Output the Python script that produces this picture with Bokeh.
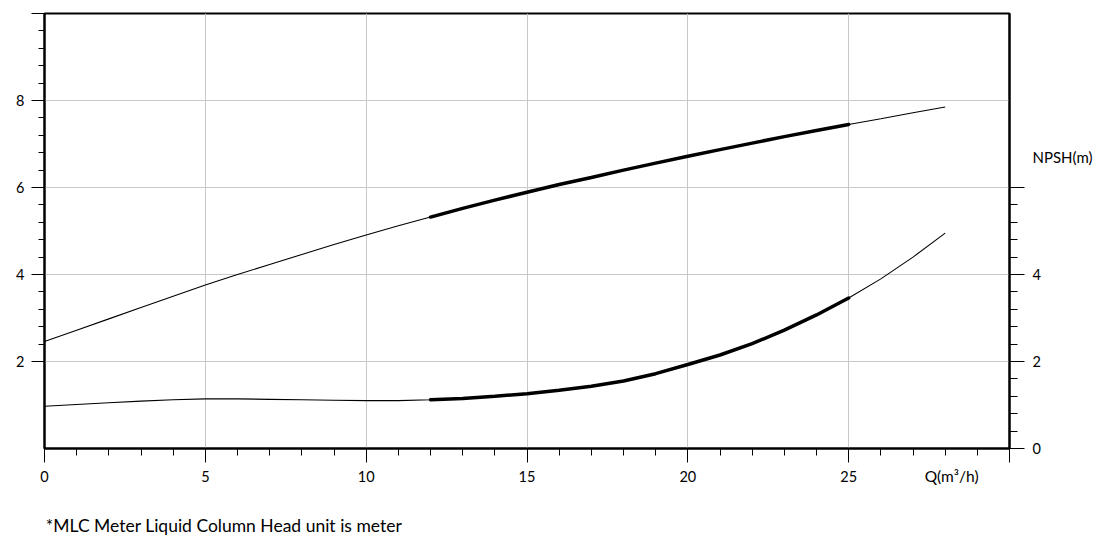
from bokeh.plotting import figure
from bokeh.models import Range1d, LinearAxis, FixedTicker
from bokeh.embed import file_html
from bokeh.resources import INLINE

# ---- data ----
q = [0, 1, 2, 3, 4, 5, 6, 7, 8, 9, 10, 11, 12, 13, 14, 15, 16, 17, 18, 19, 20,
     21, 22, 23, 24, 25, 26, 27, 28]
head = [2.46, 2.72, 2.98, 3.24, 3.50, 3.76, 4.00, 4.23, 4.46, 4.69, 4.91, 5.12,
        5.32, 5.52, 5.71, 5.89, 6.07, 6.23, 6.40, 6.56, 6.72, 6.87, 7.02, 7.17,
        7.31, 7.45, 7.58, 7.72, 7.85]
npsh = [0.97, 1.01, 1.05, 1.09, 1.12, 1.14, 1.14, 1.13, 1.12, 1.11, 1.10, 1.10,
        1.12, 1.15, 1.20, 1.26, 1.34, 1.43, 1.55, 1.72, 1.93, 2.15, 2.41, 2.72,
        3.07, 3.46, 3.90, 4.40, 4.95]
op_start, op_end = 12, 25  # bold operating range (m3/h)

x_ticks = [0, 5, 10, 15, 20, 25, 30]
x_labels = {30: ""}
left_ticks = [2, 4, 6, 8, 10]
left_labels = {10: ""}
right_ticks = [0, 2, 4, 6]
right_labels = {6: ""}
q_title = "Q(m³/h)"
npsh_title = "NPSH(m)"
footnote = "*MLC Meter Liquid Column Head unit is meter"

FONT = "Lato"

p = figure(width=1103, height=540, output_backend="svg", toolbar_location=None,
           x_range=Range1d(0, 30), y_range=Range1d(0, 10),
           min_border_left=44, min_border_right=94, min_border_top=13,
           min_border_bottom=92, x_axis_location="below", y_axis_location="left")
p.outline_line_color = "black"
p.outline_line_width = 2
p.background_fill_color = "white"
p.border_fill_color = "white"

# grids
p.xgrid.ticker = FixedTicker(ticks=[5, 10, 15, 20, 25])
p.ygrid.ticker = FixedTicker(ticks=[2, 4, 6, 8])
for g in (p.xgrid, p.ygrid):
    g.grid_line_color = "#c8c8c8"
    g.grid_line_width = 1

def style(ax, standoff, size="14.5px"):
    ax.axis_line_color = "black"
    ax.axis_line_width = 2
    ax.major_tick_line_color = "black"
    ax.minor_tick_line_color = "black"
    ax.major_tick_in = 0
    ax.minor_tick_in = 0
    ax.major_label_text_font = FONT
    ax.major_label_text_font_size = size
    ax.major_label_text_color = "black"
    ax.major_label_standoff = standoff

def text_only(ax):
    ax.axis_line_color = None
    ax.major_tick_line_color = None
    ax.minor_tick_line_color = None
    ax.major_tick_out = 0
    ax.minor_tick_out = 0

xa = p.xaxis[0]
xa.ticker = FixedTicker(ticks=x_ticks, minor_ticks=[i for i in range(0, 31)])
xa.major_label_overrides = x_labels
style(xa, 8)
xa.major_tick_out = 14
xa.minor_tick_out = 7

ya = p.yaxis[0]
ya.ticker = FixedTicker(ticks=left_ticks,
                        minor_ticks=[round(2 + 0.4 * i, 1) for i in range(21)])
ya.major_label_overrides = left_labels
style(ya, 7)
ya.major_tick_out = 13
ya.minor_tick_out = 6

ra = LinearAxis(ticker=FixedTicker(ticks=right_ticks,
                                   minor_ticks=[round(0.4 * i, 1) for i in range(16)]))
ra.major_label_overrides = right_labels
style(ra, 8)
ra.major_tick_out = 15
ra.minor_tick_out = 8
p.add_layout(ra, "right")

# NPSH(m) caption on the right side (text-only axis)
na = LinearAxis(ticker=FixedTicker(ticks=[6.7], minor_ticks=[]))
na.major_label_overrides = {6.7: npsh_title}
style(na, -11, "15px")
text_only(na)
p.add_layout(na, "right")

# Q(m³/h) caption on the x tick-label row (text-only axis)
qa = LinearAxis(ticker=FixedTicker(ticks=[28.2], minor_ticks=[]))
qa.major_label_overrides = {28.2: q_title}
style(qa, -18, "15.5px")
text_only(qa)
p.add_layout(qa, "below")

# footnote (text-only axis below the Q caption)
fa = LinearAxis(ticker=FixedTicker(ticks=[5.58], minor_ticks=[]))
fa.major_label_overrides = {5.58: footnote}
style(fa, 27, "17.5px")
text_only(fa)
p.add_layout(fa, "below")

# curves
p.line(q, head, line_color="black", line_width=1.1)
p.line(q, npsh, line_color="black", line_width=1.1)
i0, i1 = q.index(op_start), q.index(op_end) + 1
p.line(q[i0:i1], head[i0:i1], line_color="black", line_width=3.5, line_cap="round")
p.line(q[i0:i1], npsh[i0:i1], line_color="black", line_width=3.5, line_cap="round")

open("out.html", "w").write(file_html(p, INLINE))
